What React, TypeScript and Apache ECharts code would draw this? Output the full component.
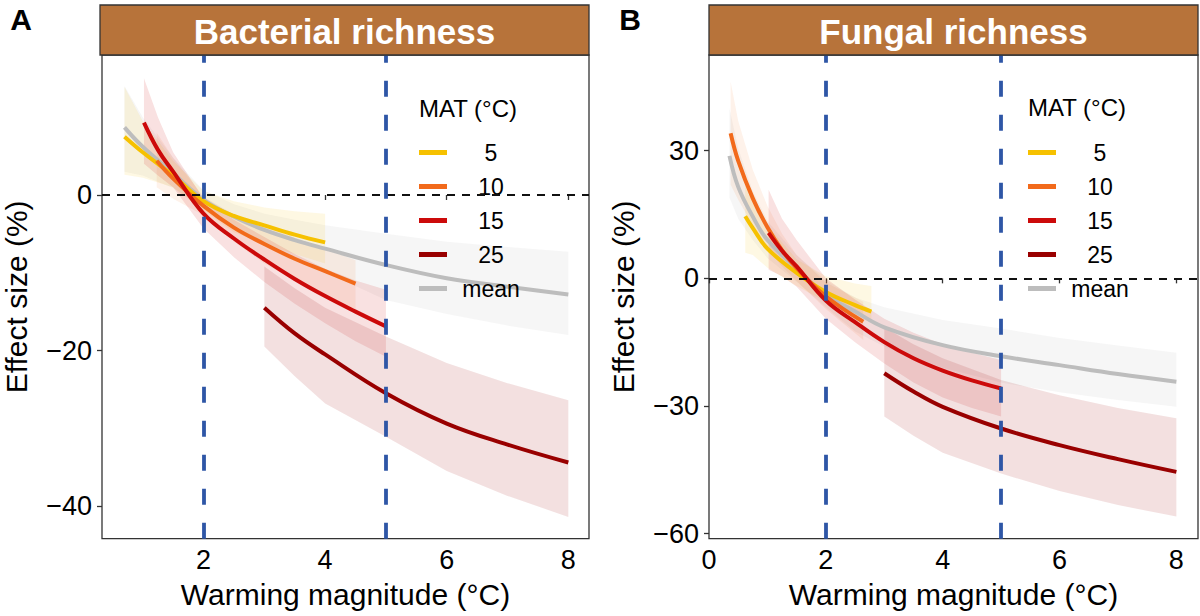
import React, { useEffect, useRef } from "react";
import * as echarts from "echarts";

// ---------- data ----------
const matNames = ["5", "10", "15", "25", "mean"];
const xTicksA = [2, 4, 6, 8];
const yTicksA = [-40, -20, 0];
const xTicksB = [0, 2, 4, 6, 8];
const yTicksB = [-60, -30, 0, 30];
const vLines = [2, 5];

// Panel A: Bacterial richness
const a5X = [0.7, 1, 1.5, 2, 2.5, 3, 3.5, 4];
const a5Y = [7.5, 5.5, 2.5, -0.8, -2.7, -3.9, -5.1, -6.1];
const a5Lo = [2.6, 2.2, 1.0, -2.0, -4.8, -6.3, -7.6, -8.8];
const a5Hi = [13.9, 9.5, 4.4, 0.5, -0.8, -1.6, -2.1, -2.4];

const a10X = [1.23, 1.5, 2, 2.5, 3, 3.5, 4, 4.5];
const a10Y = [4.4, 2.1, -1.4, -4.2, -6.3, -8.2, -9.8, -11.4];
const a10Lo = [1.0, -0.5, -2.6, -6.0, -8.8, -11.0, -13.0, -14.8];
const a10Hi = [8.0, 4.8, -0.2, -2.5, -4.0, -5.5, -6.9, -8.4];

const a15X = [1.02, 1.25, 1.5, 2, 2.5, 3, 3.5, 4, 4.5, 5];
const a15Y = [9.3, 5.8, 3.0, -2.4, -5.6, -8.3, -10.8, -13.0, -15.0, -16.9];
const a15Lo = [4.0, 2.5, 1.0, -4.3, -8.0, -11.2, -14.0, -16.5, -18.8, -20.8];
const a15Hi = [15.0, 10.0, 5.5, -0.5, -3.2, -5.4, -7.6, -9.5, -11.0, -12.2];

const a25X = [3, 3.5, 4, 5, 6, 7, 8];
const a25Y = [-14.5, -17.8, -20.5, -25.5, -29.4, -32.1, -34.4];
const a25Lo = [-19.5, -23.3, -26.8, -31.1, -35.5, -38.7, -41.4];
const a25Hi = [-9.2, -12.0, -14.5, -18.2, -21.6, -24.2, -26.4];

const aMeanX = [0.7, 1, 1.5, 2, 2.5, 3, 3.5, 4, 5, 6, 7, 8];
const aMeanY = [8.7, 6.2, 2.8, -0.6, -2.8, -4.5, -5.8, -6.9, -9.0, -10.7, -11.8, -12.8];
const aMeanLo = [3.0, 2.5, 0.9, -1.8, -4.4, -6.6, -8.3, -9.9, -13.5, -15.3, -16.8, -18.0];
const aMeanHi = [14.0, 10.0, 4.8, 0.6, -1.2, -2.4, -3.2, -3.9, -5.0, -6.0, -6.7, -7.3];

// Panel B: Fungal richness
const b5X = [0.62, 0.75, 1, 1.5, 2, 2.5, 2.78];
const b5Y = [14.6, 11.8, 7.0, 1.3, -3.2, -6.3, -7.8];
const b5Lo = [6.0, 5.5, 2.5, -1.8, -5.5, -8.5, -10.0];
const b5Hi = [22.0, 18.5, 12.5, 4.5, 0.5, -1.2, -1.8];

const b10X = [0.37, 0.5, 0.75, 1, 1.25, 1.5, 2, 2.64];
const b10Y = [34.1, 27.6, 18.8, 12.0, 6.6, 2.4, -4.2, -10.2];
const b10Lo = [22.0, 18.5, 12.5, 7.0, 2.8, -0.6, -7.2, -14.5];
const b10Hi = [46.2, 37.0, 25.5, 17.0, 10.5, 5.5, -1.0, -5.5];

const b15X = [1.02, 1.25, 1.5, 2, 2.5, 3, 3.5, 4, 4.5, 5];
const b15Y = [10.7, 6.5, 2.8, -5.2, -10.3, -15.0, -18.8, -21.7, -24.0, -25.9];
const b15Lo = [2.0, 0.5, -2.0, -9.5, -15.0, -20.0, -24.5, -28.0, -30.5, -32.5];
const b15Hi = [20.8, 14.0, 9.0, 0.0, -5.0, -9.5, -12.8, -15.5, -17.5, -19.2];

const b25X = [3, 3.5, 4, 5, 6, 7, 8];
const b25Y = [-22.3, -26.6, -30.2, -35.3, -39.2, -42.5, -45.5];
const b25Lo = [-32.5, -37.0, -41.0, -45.9, -50.0, -53.3, -56.0];
const b25Hi = [-11.5, -15.5, -18.8, -23.9, -27.5, -30.5, -32.9];

const bMeanX = [0.35, 0.5, 0.75, 1, 1.5, 2, 2.5, 3, 4, 5, 6, 7, 8];
const bMeanY = [28.8, 21.5, 14.5, 9.0, 2.3, -3.8, -7.8, -11.5, -15.7, -18.3, -20.4, -22.5, -24.3];
const bMeanLo = [19.0, 14.0, 9.0, 4.8, -0.8, -6.8, -12.5, -16.0, -21.0, -24.5, -26.8, -28.6, -30.2];
const bMeanHi = [40.0, 30.5, 20.5, 13.5, 5.5, -0.5, -4.5, -6.8, -9.8, -11.8, -14.0, -15.8, -17.5];

// ---------- styling ----------
const FONT = "'Liberation Sans', Arial, Helvetica, sans-serif";
const lineColors: Record<string, string> = {
  "5": "#F6C100",
  "10": "#F26A1B",
  "15": "#CC0A0A",
  "25": "#990000",
  mean: "#BDBDBD",
};
const ribbonOpacity: Record<string, number> = {
  "5": 0.11,
  "10": 0.09,
  "15": 0.12,
  "25": 0.12,
  mean: 0.14,
};

type Curve = { name: string; x: number[]; y: number[]; lo: number[]; hi: number[] };

const curvesA: Curve[] = [
  { name: "mean", x: aMeanX, y: aMeanY, lo: aMeanLo, hi: aMeanHi },
  { name: "5", x: a5X, y: a5Y, lo: a5Lo, hi: a5Hi },
  { name: "10", x: a10X, y: a10Y, lo: a10Lo, hi: a10Hi },
  { name: "15", x: a15X, y: a15Y, lo: a15Lo, hi: a15Hi },
  { name: "25", x: a25X, y: a25Y, lo: a25Lo, hi: a25Hi },
];
const curvesB: Curve[] = [
  { name: "mean", x: bMeanX, y: bMeanY, lo: bMeanLo, hi: bMeanHi },
  { name: "5", x: b5X, y: b5Y, lo: b5Lo, hi: b5Hi },
  { name: "10", x: b10X, y: b10Y, lo: b10Lo, hi: b10Hi },
  { name: "15", x: b15X, y: b15Y, lo: b15Lo, hi: b15Hi },
  { name: "25", x: b25X, y: b25Y, lo: b25Lo, hi: b25Hi },
];

const minus = (v: number) => String(v).replace("-", "\u2212");

function buildSeries(curves: Curve[], p: number): any[] {
  const ribbons: any[] = [];
  const lines: any[] = [];
  curves.forEach((c) => {
    ribbons.push({
      type: "custom",
      name: `band-${p}-${c.name}`,
      xAxisIndex: p,
      yAxisIndex: p,
      silent: true,
      clip: true,
      data: c.x.map((x, i) => [x, c.lo[i], c.hi[i]]),
      encode: { x: 0, y: [1, 2] },
      renderItem: (params: any, api: any) => {
        if (params.dataIndex !== 0) return null;
        const top = c.x.map((x, i) => api.coord([x, c.hi[i]]));
        const bot = c.x.map((x, i) => api.coord([x, c.lo[i]])).reverse();
        return {
          type: "polygon",
          shape: { points: [...top, ...bot] },
          style: { fill: lineColors[c.name], opacity: ribbonOpacity[c.name] },
          silent: true,
        };
      },
      z: 1,
    });
    lines.push({
      type: "line",
      name: c.name,
      xAxisIndex: p,
      yAxisIndex: p,
      smooth: 0.4,
      symbol: "none",
      showSymbol: false,
      color: lineColors[c.name],
      lineStyle: { color: lineColors[c.name], width: 4, cap: "butt" },
      data: c.x.map((x, i) => [x, c.y[i]]),
      z: 3,
    });
  });
  lines.push({
    type: "line",
    name: `ref-${p}`,
    xAxisIndex: p,
    yAxisIndex: p,
    data: [],
    silent: true,
    markLine: {
      silent: true,
      symbol: ["none", "none"],
      animation: false,
      label: { show: false },
      data: [
        { yAxis: 0, lineStyle: { color: "#111", width: 1.8, type: [8, 7] } },
        ...vLines.map((v) => ({
          xAxis: v,
          lineStyle: { color: "#2E56A6", width: 3.8, type: [16, 18] },
        })),
      ],
    },
  });
  return [...ribbons, ...lines];
}

function xAxisCfg(idx: number, min: number, max: number, ticks: number[]) {
  return {
    type: "value",
    gridIndex: idx,
    min,
    max,
    splitLine: { show: false },
    axisLine: { show: false },
    axisTick: { show: true, length: 5, lineStyle: { color: "#333", width: 1.3 }, customValues: ticks },
    axisLabel: {
      customValues: ticks,
      margin: 8,
      fontSize: 27,
      color: "#000",
      fontFamily: FONT,
      formatter: (v: number) => minus(v),
    },
    name: "Warming magnitude (\u00B0C)",
    nameLocation: "middle",
    nameGap: 41,
    nameTextStyle: { fontSize: 30, color: "#000", fontFamily: FONT },
  };
}

function yAxisCfg(idx: number, min: number, max: number, ticks: number[]) {
  return {
    type: "value",
    gridIndex: idx,
    min,
    max,
    splitLine: { show: false },
    axisLine: { show: false },
    axisTick: { show: true, length: 5, lineStyle: { color: "#333", width: 1.3 }, customValues: ticks },
    axisLabel: {
      customValues: ticks,
      margin: 10,
      fontSize: 27,
      color: "#000",
      fontFamily: FONT,
      formatter: (v: number) => minus(v),
    },
    name: "Effect size (%)",
    nameLocation: "middle",
    nameGap: 71,
    nameTextStyle: { fontSize: 30, color: "#000", fontFamily: FONT },
  };
}

function legendCfg(left: number) {
  return {
    data: matNames,
    orient: "vertical",
    left,
    top: 141,
    padding: 0,
    itemWidth: 28,
    itemHeight: 5,
    itemGap: 11,
    icon: "rect",
    selectedMode: false,
    formatter: "{c|{name}}",
    textStyle: {
      color: "#000",
      fontSize: 23,
      fontFamily: FONT,
      rich: { c: { width: 78, align: "center", fontSize: 23, fontFamily: FONT, color: "#000" } },
    },
  };
}

function stripGraphics(x: number, w: number, title: string, letter: string, letterX: number) {
  return [
    {
      type: "rect",
      shape: { x, y: 5, width: w, height: 50 },
      style: { fill: "#B7733A", stroke: "#333", lineWidth: 1.3 },
      z: 100,
    },
    {
      type: "text",
      x: x + w / 2,
      y: 31,
      style: {
        text: title,
        fill: "#fff",
        fontSize: 35,
        fontWeight: "bold",
        fontFamily: FONT,
        align: "center",
        verticalAlign: "middle",
      },
      z: 101,
    },
    {
      type: "text",
      x: letterX,
      y: 19,
      style: {
        text: letter,
        fill: "#000",
        fontSize: 30,
        fontWeight: "bold",
        fontFamily: FONT,
        align: "center",
        verticalAlign: "middle",
      },
      z: 101,
    },
  ];
}

function legendTitle(cx: number, cy: number) {
  return {
    type: "text",
    x: cx,
    y: cy,
    style: {
      text: "MAT (\u00B0C)",
      fill: "#000",
      fontSize: 24,
      fontFamily: FONT,
      align: "center",
      verticalAlign: "middle",
    },
    z: 101,
  };
}

export default function App() {
  const ref = useRef<HTMLDivElement>(null);
  useEffect(() => {
    document.body.style.margin = "0";
    if (!ref.current) return;
    const chart = echarts.init(ref.current, undefined, { renderer: "svg" });
    const option: any = {
      animation: false,
      backgroundColor: "#fff",
      grid: [
        { left: 100, top: 55, width: 489, height: 483.7, show: true, borderColor: "#333", borderWidth: 1.3, backgroundColor: "transparent" },
        { left: 709, top: 55, width: 489, height: 483.7, show: true, borderColor: "#333", borderWidth: 1.3, backgroundColor: "transparent" },
      ],
      xAxis: [xAxisCfg(0, 0.33, 8.34, xTicksA), xAxisCfg(1, 0, 8.37, xTicksB)],
      yAxis: [yAxisCfg(0, -44.2, 18.0, yTicksA), yAxisCfg(1, -61.2, 52.5, yTicksB)],
      legend: [legendCfg(419), legendCfg(1028)],
      graphic: [
        ...stripGraphics(100, 489, "Bacterial richness", "A", 21),
        ...stripGraphics(709, 489, "Fungal richness", "B", 630),
        legendTitle(468, 108),
        legendTitle(1077, 107),
      ],
      series: [...buildSeries(curvesA, 0), ...buildSeries(curvesB, 1)],
    };
    chart.setOption(option);
    return () => chart.dispose();
  }, []);
  return <div ref={ref} style={{ width: 1200, height: 616 }} />;
}
